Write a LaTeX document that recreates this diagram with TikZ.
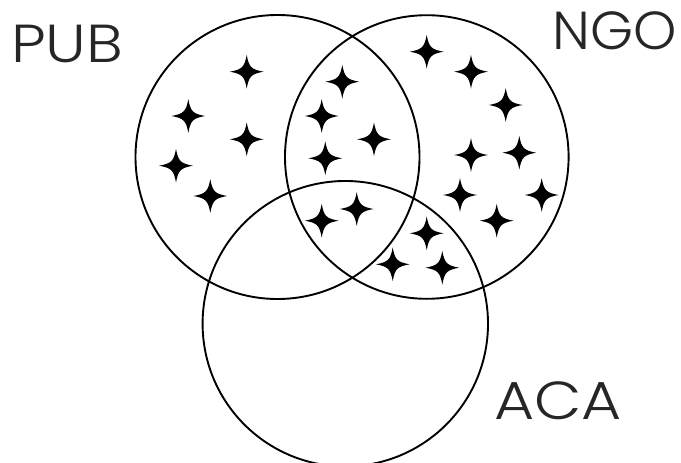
\documentclass[tikz,border=0pt]{standalone}
\usepackage{fontspec}
\setmainfont{Poppins}
\newfontfamily\labelfont{Poppins Light}
\usetikzlibrary{positioning}

\tikzset{
  set/.style={line width=1.9pt},
  setlabel/.style={font=\labelfont\fontsize{53.5}{53.5}\selectfont, text=black!85,
    inner sep=0pt, anchor=base west, xscale=1.15},
  spark/.pic={
    \fill (0,16.8) .. controls (2.3,4.5) and (4.5,2.3) .. (16.8,0)
      .. controls (4.5,-2.3) and (2.3,-4.5) .. (0,-16.8)
      .. controls (-2.3,-4.5) and (-4.5,-2.3) .. (-16.8,0)
      .. controls (-4.5,2.3) and (-2.3,4.5) .. cycle;
  }
}

\begin{document}
\begin{tikzpicture}[x=1pt, y=-1pt]
  \useasboundingbox (0,0) rectangle (681,463);

  % the three sets
  \draw[set] (277.5,157) circle (142);
  \draw[set] (426.8,157) circle (141.8);
  \draw[set] (345.3,323.7) circle (142.7);

  % labels
  \node[setlabel] (pub) at (11,62.3) {PUB};
  \node[setlabel, xscale=1.03/1.15] (ngo) at (552,49.3) {NGO};
  \node[setlabel] (aca) at (494,419.7) {ACA};

  % PUB only
  \foreach \x/\y in {246.7/71.7, 188.3/116, 246.7/139.3, 176/165.7, 210.3/196}
    \pic at (\x,\y) {spark};

  % PUB and NGO
  \foreach \x/\y in {342.3/81.7, 321.7/116, 374/139.3, 325.3/158.3, 321.7/220.7, 356.7/209}
    \pic at (\x,\y) {spark};

  % NGO only
  \foreach \x/\y in {426.7/51.7, 471/71.7, 505.7/105, 471/155, 519.3/152.7,
                     460/195, 541.7/195, 496.7/220.7}
    \pic at (\x,\y) {spark};

  % NGO and ACA
  \foreach \x/\y in {426.7/233.3, 392.7/264.3, 442.3/267.7}
    \pic at (\x,\y) {spark};
\end{tikzpicture}
\end{document}
